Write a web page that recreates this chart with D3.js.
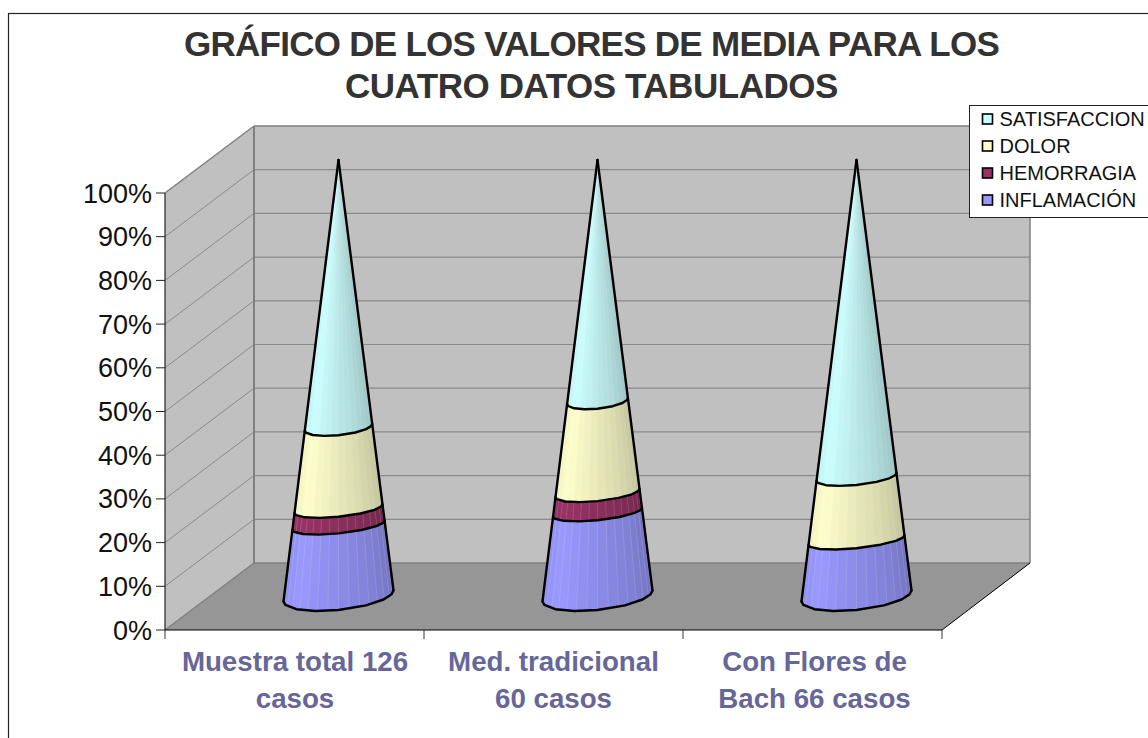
<!DOCTYPE html>
<html><head><meta charset="utf-8">
<script src="https://cdn.jsdelivr.net/npm/d3@7/dist/d3.min.js"></script>
<style>html,body{margin:0;padding:0;background:#fff}svg{display:block}text{font-family:"Liberation Sans",Arial,sans-serif}</style>
</head><body><div id="c"></div>
<script>
const categories=[["Muestra total 126","casos"],["Med. tradicional","60 casos"],["Con Flores de","Bach 66 casos"]];
const seriesNames=["INFLAMACIÓN","HEMORRAGIA","DOLOR","SATISFACCION"];
const inflamacion=[16.2,19.2,12.8];
const hemorragia=[3.8,4.4,0];
const dolor=[18.7,21.1,14.5];
const satisfaccion=[61.3,55.3,72.7];
const seriesValues=[inflamacion,hemorragia,dolor,satisfaccion];
const seriesColors=["#9999ff","#993366","#ffffcc","#ccffff"];
const yTicks=[0,10,20,30,40,50,60,70,80,90,100];
const titleLines=["GRÁFICO DE LOS VALORES DE MEDIA PARA LOS","CUATRO DATOS TABULADOS"];

const W=1148,H=738;
const svg=d3.select("#c").append("svg").attr("width",W).attr("height",H);
svg.append("rect").attr("x",8.5).attr("y",13.5).attr("width",W).attr("height",H).attr("fill","#fff").attr("stroke","#222").attr("stroke-width",1.2);

// scales
const x0=165,x1=942,dx=89,dy=-67;
const xBand=d3.scaleBand().domain(d3.range(3)).range([x0,x1]);
const yFront=d3.scaleLinear().domain([0,100]).range([630,193]);
const yCone=d3.scaleLinear().domain([0,100]).range([596,160]);
const rCone=d3.scaleLinear().domain([0,100]).range([55,0]);

// walls
const gray="#c0c0c0",edge="#808080";
const poly=(pts,fill)=>svg.append("polygon").attr("points",pts.map(p=>p.join(",")).join(" ")).attr("fill",fill);
poly([[x0,yFront(0)],[x0+dx,yFront(0)+dy],[x0+dx,yFront(100)+dy],[x0,yFront(100)]],gray);
poly([[x0+dx,yFront(0)+dy],[x1+dx-1,yFront(0)+dy],[x1+dx-1,yFront(100)+dy],[x0+dx,yFront(100)+dy]],gray);
poly([[x0,yFront(0)],[x1,yFront(0)],[x1+dx-1,yFront(0)+dy],[x0+dx,yFront(0)+dy]],"#969696");
const line=(a,b,c,d,col,w)=>svg.append("line").attr("x1",a).attr("y1",b).attr("x2",c).attr("y2",d).attr("stroke",col).attr("stroke-width",w);
yTicks.slice(1,-1).forEach(v=>{
  const y=yFront(v);
  line(x0,y,x0+dx,y+dy,"#8a8a8a",1);
  line(x0+dx,y+dy,x1+dx-1,y+dy,"#8a8a8a",1.2);
});
line(x0+dx,yFront(100)+dy,x1+dx-1,yFront(100)+dy,edge,1.5);
line(x0,yFront(100),x0+dx,yFront(100)+dy,edge,1.5);
line(x0+dx,yFront(100)+dy,x0+dx,yFront(0)+dy,edge,2);
line(x1+dx-1,yFront(100)+dy,x1+dx-1,yFront(0)+dy,edge,1.5);
line(x0+dx,yFront(0)+dy,x1+dx-1,yFront(0)+dy,edge,1.5);
line(x0,yFront(0),x0+dx,yFront(0)+dy,edge,1.5);
line(x1,yFront(0),x1+dx-1,yFront(0)+dy,"#000",1);

// axes
const ax="#222";
line(x0,yFront(100),x0,yFront(0),ax,1.2);
line(x0,yFront(0),x1,yFront(0),"#000",1.2);
yTicks.forEach(v=>{
  line(x0-9,yFront(v),x0,yFront(v),ax,1);
  svg.append("text").attr("x",x0-13).attr("y",yFront(v)+9.5).attr("text-anchor","end")
    .attr("font-size",27).attr("fill","#111").text(v+"%");
});
d3.range(4).forEach(i=>{const x=x0+xBand.step()*i;line(x,yFront(0),x,yFront(0)+9,"#333",1);});

// cones
const ANG=[180,165,140,115,90,60,35,15,0];
const FACETS=d3.range(17).map(i=>180-i*11.25);
function ring(cx,v,deg){
  const r=rCone(v),t=deg*Math.PI/180;
  const bulge=v===0?14:Math.min(8,r*0.25);
  return [cx+r*Math.cos(t), yCone(v)-0.1*r*Math.cos(t)+bulge*Math.sin(t)];
}
const shadeK=d3.scaleLinear().domain([180,135,90,0]).range([0.93,1,0.91,0.74]);
function shade(col,deg){
  const k=shadeK(deg),c=d3.rgb(col);
  return d3.rgb(c.r*k,c.g*k,c.b*k).formatHex();
}
const toStr=a=>a.map(p=>p.map(n=>n.toFixed(1)).join(",")).join(" ");
categories.forEach((cat,ci)=>{
  const cx=xBand(ci)+xBand.bandwidth()/2+dx/2-0.5;
  const g=svg.append("g");
  let cum=0;
  seriesValues.forEach((vals,si)=>{
    const v=vals[ci]; if(v<=0) return;
    const lo=cum,hi=cum+v;cum=hi;
    for(let i=0;i<FACETS.length-1;i++){
      const a=FACETS[i],b=FACETS[i+1],col=shade(seriesColors[si],(a+b)/2);
      g.append("polygon").attr("points",toStr([ring(cx,lo,a),ring(cx,lo,b),ring(cx,hi,b),ring(cx,hi,a)]))
       .attr("fill",col).attr("stroke",col).attr("stroke-width",0.6);
    }
    for(let i=1;i<FACETS.length-1;i++){
      const pa=ring(cx,lo,FACETS[i]),pd=ring(cx,hi,FACETS[i]);
      g.append("line").attr("x1",pa[0]).attr("y1",pa[1]).attr("x2",pd[0]).attr("y2",pd[1])
        .attr("stroke","#fff").attr("stroke-opacity",0.12).attr("stroke-width",1);
    }
  });
  // outlines
  const path=a=>g.append("polyline").attr("points",toStr(a)).attr("fill","none").attr("stroke","#000").attr("stroke-width",2.4).attr("stroke-linejoin","round").attr("stroke-linecap","round");
  path([ring(cx,0,180),ring(cx,100,180)]);
  path([ring(cx,0,0),ring(cx,100,0)]);
  let c=0;
  path(ANG.map(a=>ring(cx,0,a)));
  seriesValues.slice(0,3).forEach(vals=>{
    if(vals[ci]<=0) return;
    c+=vals[ci];
    path(ANG.map(a=>ring(cx,c,a)));
  });
});

// category labels
const labelShift=[0.5,0,2];
categories.forEach((cat,i)=>{
  const cx=xBand(i)+xBand.bandwidth()/2+labelShift[i];
  cat.forEach((t,j)=>svg.append("text").attr("x",cx).attr("y",670.5+j*37).attr("text-anchor","middle")
    .attr("font-size",27.7).attr("font-weight","bold").attr("fill","#666699").text(t));
});

// title
titleLines.forEach((t,j)=>svg.append("text").attr("x",591.5).attr("y",55.5+j*42.5).attr("text-anchor","middle")
  .attr("font-size",35).attr("font-weight","bold").attr("fill","#333").attr("letter-spacing",j?-0.45:-0.72).text(t));

// legend
svg.append("rect").attr("x",969.5).attr("y",105.5).attr("width",190).attr("height",112).attr("fill","#fff").attr("stroke","#222").attr("stroke-width",1);
seriesNames.slice().reverse().forEach((n,i)=>{
  const col=seriesColors[3-i],y=119+i*27;
  svg.append("rect").attr("x",982.5).attr("y",y-5).attr("width",10).attr("height",10).attr("fill",col).attr("stroke","#000").attr("stroke-width",1.6);
  svg.append("text").attr("x",999.5).attr("y",y+6.5).attr("font-size",20).attr("fill","#111").text(n);
});
</script></body></html>
